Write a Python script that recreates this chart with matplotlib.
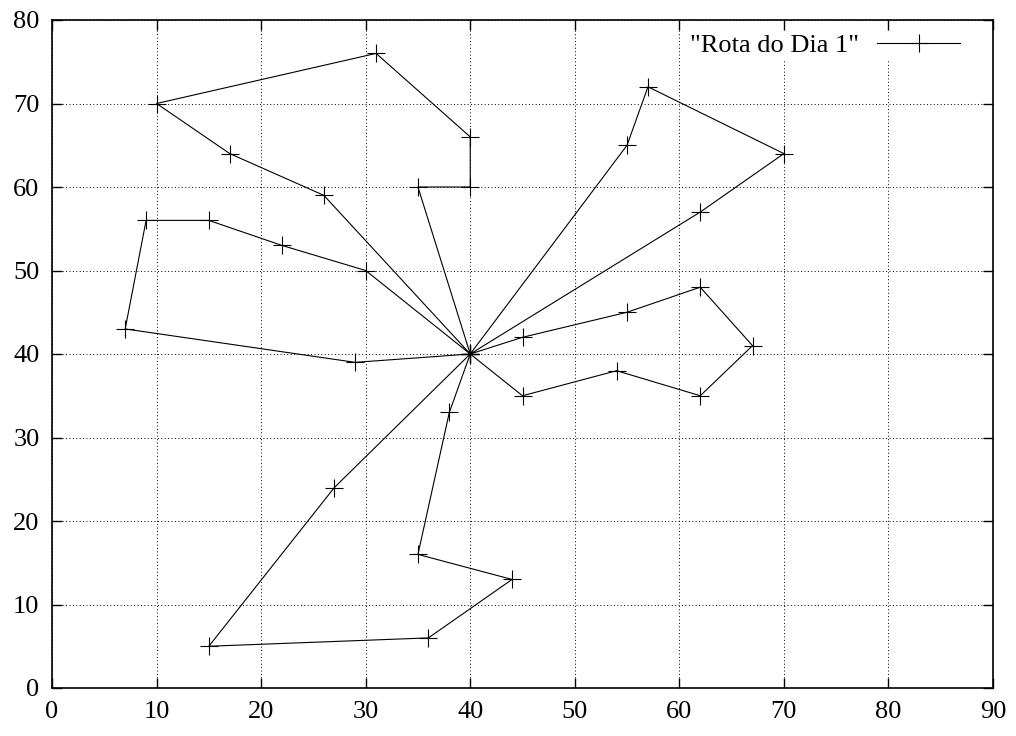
import matplotlib.pyplot as plt

# rota do dia 1: todas as voltas passam pelo deposito (40, 40)
route_x = [40, 35, 40, 40, 31, 10, 17, 26, 40,
           30, 22, 15, 9, 7, 29, 40,
           55, 57, 70, 62, 40,
           45, 55, 62, 67, 62, 54, 45, 40,
           38, 35, 44, 36, 15, 27, 40]
route_y = [40, 60, 60, 66, 76, 70, 64, 59, 40,
           50, 53, 56, 56, 43, 39, 40,
           65, 72, 64, 57, 40,
           42, 45, 48, 41, 35, 38, 35, 40,
           33, 16, 13, 6, 5, 24, 40]
label = '"Rota do Dia 1"'

x_ticks = list(range(0, 91, 10))
y_ticks = list(range(0, 81, 10))

plt.rcParams['font.family'] = ['Liberation Serif', 'DejaVu Serif']

fig = plt.figure(figsize=(10.16, 7.36), dpi=100)
ax = fig.add_axes([52 / 1016, 48 / 736, 941 / 1016, 668 / 736])

ax.plot(route_x, route_y, color='black', linewidth=0.8, marker='+',
        markersize=13, markeredgewidth=0.8, label=label)

ax.set_xlim(0, 90)
ax.set_ylim(0, 80)
ax.set_xticks(x_ticks)
ax.set_yticks(y_ticks)
ax.tick_params(direction='in', length=7, width=1, top=True, right=True,
               labelsize=19, pad=9)
ax.grid(True, linestyle=(0, (1, 2.5)), color='black', linewidth=0.7)
for spine in ax.spines.values():
    spine.set_linewidth(1.2)

# legenda sem moldura, mas tapando a grelha (como no gnuplot)
leg = ax.legend(loc='upper right', frameon=True, fancybox=False,
                framealpha=1, facecolor='white', edgecolor='none',
                markerfirst=False, fontsize=19, handlelength=3.15,
                handletextpad=0.7, borderpad=0.1, borderaxespad=0,
                bbox_to_anchor=(0.968, 0.9835))

fig.savefig('out.png', dpi=100)
